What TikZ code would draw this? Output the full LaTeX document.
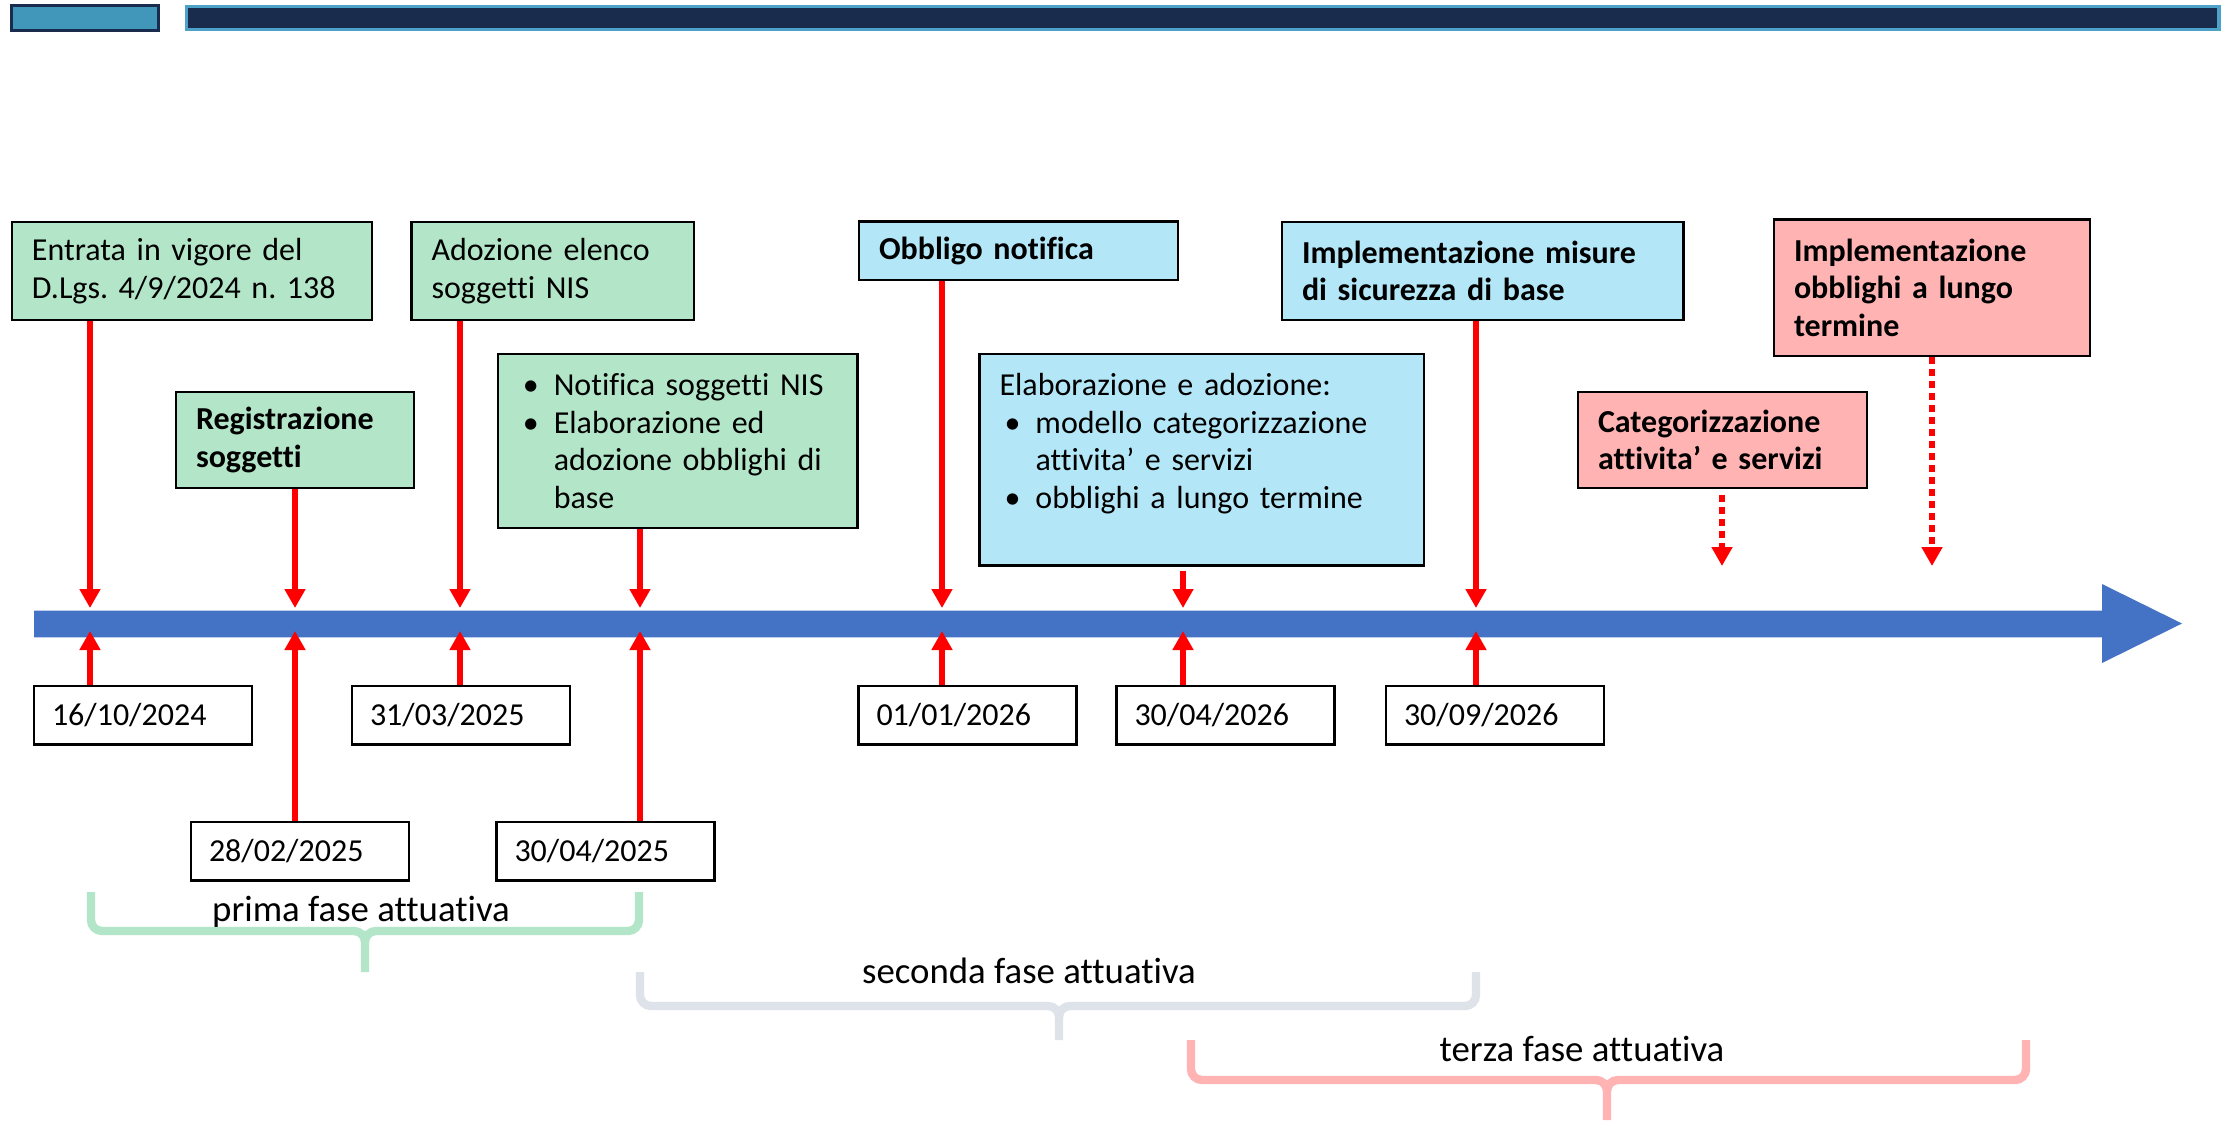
\documentclass[tikz,border=0pt]{standalone}
\usepackage{fontspec}
\setmainfont{Carlito}[Ligatures={NoCommon}]
\usetikzlibrary{arrows.meta}
\frenchspacing
\definecolor{navy}{HTML}{1A2C4E}
\definecolor{tealbar}{HTML}{4197BA}
\definecolor{lightbar}{HTML}{4CA2C9}
\definecolor{boxgreen}{HTML}{B3E6C8}
\definecolor{boxblue}{HTML}{B3E7F8}
\definecolor{boxpink}{HTML}{FFB3B3}
\definecolor{bracegray}{HTML}{DEE3EA}
\definecolor{axisblue}{HTML}{4472C4}
\newcommand\bitem{\hspace*{2.5pt}\makebox[15.5pt][l]{\textbullet}}
\newcommand\bcont{\hspace*{18pt}}
\tikzset{
  evbox/.style={draw=black, line width=1.2pt, inner xsep=10pt, inner ysep=0pt,
    align=left, font=\fontsize{16}{18.8}\selectfont},
  datebox/.style={draw=black, line width=1.2pt, fill=white, inner xsep=9pt, inner ysep=0pt,
    align=left, minimum width=109pt, minimum height=29.3pt, text width=91pt,
    font=\fontsize{16}{18.8}\selectfont},
  redarr/.style={draw=red, line width=2.6pt, -{Triangle[length=9.5pt,width=10pt]}},
  reddash/.style={redarr, dash pattern=on 3.3pt off 2.7pt},
  brace/.style={line width=4.2pt, line cap=butt},
  phase/.style={anchor=base, inner sep=0pt, font=\fontsize{18.4}{22}\selectfont}
}
\begin{document}
\begin{tikzpicture}[x=0.5pt,y=-0.5pt]
\useasboundingbox (0,0) rectangle (2229,1121);
% top bars
\draw[line width=1.5pt, draw=navy, fill=tealbar] (11.75,5.5) rectangle (158.25,30.2);
\draw[line width=1.7pt, draw=lightbar, fill=navy] (186.7,6.4) rectangle (2219,29.4);
% axis
\fill[axisblue] (34,610.7) -- (2102,610.7) -- (2102,584) -- (2182,623.5) -- (2102,663) -- (2102,637.3) -- (34,637.3) -- cycle;
% axis coordinates
\foreach \n/\x in {1/90,2/295,3/460,4/640,5/942,6/1183,7/1476}{
  \coordinate (t\n) at (\x,608);
  \coordinate (b\n) at (\x,631);
}
\coordinate (h1) at (1722,566);
\coordinate (h2) at (1932,566);
% event boxes
\node[evbox, fill=boxgreen, minimum width=180pt, minimum height=49pt, text width=160pt] (A) at (192,271)
  {Entrata in vigore del\\D.Lgs. 4/9/2024 n. 138};
\node[evbox, fill=boxgreen, minimum width=119pt, minimum height=48pt, text width=99pt, font=\fontsize{16}{18.8}\selectfont\bfseries] (B) at (295,440)
  {Registrazione\\soggetti};
\node[evbox, fill=boxgreen, minimum width=141.3pt, minimum height=49pt, text width=121.3pt] (C) at (552.8,271)
  {Adozione elenco\\soggetti NIS};
\node[evbox, fill=boxgreen, minimum width=179.8pt, minimum height=87pt, text width=159.8pt] (D) at (677.6,441)
  {\bitem Notifica soggetti NIS\\\bitem Elaborazione ed\\\bcont adozione obblighi di\\\bcont base};
\node[evbox, fill=boxblue, minimum width=159.5pt, minimum height=29.2pt, text width=139.5pt, font=\fontsize{16}{18.8}\selectfont\bfseries] (E) at (1018.5,250.8)
  {Obbligo notifica};
\node[evbox, fill=boxblue, minimum width=222.2pt, minimum height=105.8pt, text width=202.2pt] (F) at (1201.7,459.8)
  {Elaborazione e adozione:\\\bitem modello categorizzazione\\\bcont attivita’ e servizi\\\bitem obblighi a lungo termine\\\mbox{}};
\node[evbox, fill=boxblue, minimum width=200.8pt, minimum height=49pt, text width=180.8pt, font=\fontsize{16}{18.8}\selectfont\bfseries] (G) at (1482.8,271)
  {Implementazione misure\\di sicurezza di base};
\node[evbox, fill=boxpink, minimum width=144.5pt, minimum height=48pt, text width=124.5pt, font=\fontsize{16}{18.8}\selectfont\bfseries] (H) at (1722.5,439.7)
  {Categorizzazione\\attivita’ e servizi};
\node[evbox, fill=boxpink, minimum width=158pt, minimum height=68.2pt, text width=138pt, font=\fontsize{16}{18.8}\selectfont\bfseries] (I) at (1932,287.5)
  {Implementazione\\obblighi a lungo\\termine};
% date boxes
\node[datebox] (d1) at (143,715) {16/10/2024};
\node[datebox] (d2) at (300,851) {28/02/2025};
\node[datebox] (d3) at (461,715) {31/03/2025};
\node[datebox] (d4) at (605.5,851) {30/04/2025};
\node[datebox] (d5) at (967.5,715) {01/01/2026};
\node[datebox] (d6) at (1225.5,715) {30/04/2026};
\node[datebox] (d7) at (1495,715) {30/09/2026};
% arrows from event boxes
\draw[redarr] (A.south -| t1) -- (t1);
\draw[redarr] (B.south -| t2) -- (t2);
\draw[redarr] (C.south -| t3) -- (t3);
\draw[redarr] (D.south -| t4) -- (t4);
\draw[redarr] (E.south -| t5) -- (t5);
\draw[redarr] ([yshift=-2.2pt]F.south -| t6) -- (t6);
\draw[redarr] (G.south -| t7) -- (t7);
\draw[reddash] ([yshift=-3pt]H.south -| h1) -- (h1);
\draw[reddash] (I.south -| h2) -- (h2);
% arrows from date boxes
\foreach \n in {1,...,7}{
  \draw[redarr] (d\n.north -| b\n) -- (b\n);
}
% braces
\draw[brace, draw=boxgreen] (91,892) -- (91,920) to[out=-90,in=180] (102,931) -- (354,931) to[out=0,in=90] (365,942) -- (365,972);
\draw[brace, draw=boxgreen] (639,892) -- (639,920) to[out=-90,in=0] (628,931) -- (376,931) to[out=180,in=90] (365,942);
\draw[brace, draw=bracegray] (640,972) -- (640,995) to[out=-90,in=180] (651,1006) -- (1048,1006) to[out=0,in=90] (1059,1017) -- (1059,1040);
\draw[brace, draw=bracegray] (1476,972) -- (1476,995) to[out=-90,in=0] (1465,1006) -- (1070,1006) to[out=180,in=90] (1059,1017);
\draw[brace, draw=boxpink] (1191,1040) -- (1191,1069) to[out=-90,in=180] (1202,1080) -- (1596,1080) to[out=0,in=90] (1607,1091) -- (1607,1120);
\draw[brace, draw=boxpink] (2026,1040) -- (2026,1069) to[out=-90,in=0] (2015,1080) -- (1618,1080) to[out=180,in=90] (1607,1091);
% phase labels
\node[phase] (p1) at (361,921.5) {prima fase attuativa};
\node[phase] (p2) at (1029,983) {seconda fase attuativa};
\node[phase] (p3) at (1582,1061) {terza fase attuativa};
\end{tikzpicture}
\end{document}
